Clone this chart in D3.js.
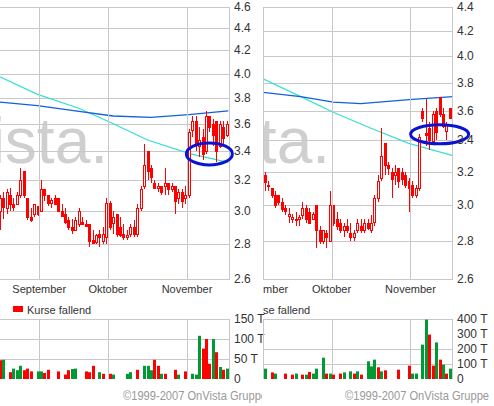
<!DOCTYPE html>
<html><head><meta charset="utf-8">
<script src="https://cdn.jsdelivr.net/npm/d3@7"></script>
<style>body{margin:0;background:#fff}svg{display:block}text{font-family:"Liberation Sans",Arial,sans-serif}</style>
</head><body><svg id="c" width="494" height="406"></svg>
<script>
// ---- data: left chart (o,h,l,c) ----
const leftOHLC = [
[3.00,3.10,2.88,3.08],[3.08,3.12,2.95,3.02],[3.02,3.14,2.98,3.12],[3.10,3.15,3.00,3.04],[3.04,3.08,3.00,3.02],
[3.04,3.12,3.04,3.10],[3.10,3.28,3.08,3.20],[3.26,3.26,3.08,3.10],[3.08,3.08,2.94,2.96],[2.96,3.02,2.93,2.94],
[2.98,3.04,2.96,3.04],[3.03,3.03,2.97,2.98],[3.00,3.20,3.00,3.14],[3.14,3.14,3.06,3.10],[3.10,3.10,3.03,3.05],
[3.05,3.08,3.02,3.07],[3.08,3.10,3.04,3.04],[3.08,3.08,3.00,3.00],[3.00,3.04,2.96,2.97],[2.98,3.02,2.92,2.93],
[2.94,2.96,2.88,2.90],[2.90,2.95,2.86,2.88],[2.88,2.96,2.88,2.94],[2.92,3.02,2.90,3.00],[2.93,2.96,2.91,2.92],
[2.92,2.94,2.90,2.91],[2.92,2.92,2.78,2.82],[2.82,2.88,2.80,2.80],[2.81,2.86,2.80,2.85],[2.86,2.88,2.78,2.84],
[2.82,2.90,2.80,2.86],[2.84,3.08,2.80,3.05],[3.05,3.06,2.88,2.90],[2.92,3.00,2.86,2.96],[2.98,2.98,2.84,2.86],
[2.90,2.96,2.84,2.85],[2.86,2.92,2.82,2.84],[2.84,2.88,2.82,2.85],[2.86,2.92,2.84,2.90],[2.90,2.94,2.84,2.86],
[2.86,3.04,2.84,3.02],[3.02,3.16,3.00,3.14],[3.16,3.45,3.14,3.30],[3.40,3.40,3.20,3.26],[3.28,3.30,3.18,3.22],
[3.18,3.20,3.14,3.15],[3.15,3.18,3.12,3.16],[3.16,3.16,3.10,3.12],[3.16,3.28,3.10,3.18],[3.18,3.18,3.10,3.14],
[3.14,3.18,3.12,3.16],[3.16,3.16,2.98,3.06],[3.08,3.14,3.04,3.12],[3.12,3.14,3.02,3.06],[3.08,3.16,3.04,3.10],
[3.10,3.56,3.08,3.54],[3.55,3.66,3.50,3.62],[3.62,3.66,3.40,3.44],[3.44,3.58,3.36,3.48],[3.50,3.56,3.34,3.38],
[3.40,3.70,3.38,3.66],[3.66,3.66,3.54,3.58],[3.60,3.64,3.44,3.52],[3.62,3.62,3.32,3.40],[3.44,3.62,3.42,3.60],
[3.58,3.62,3.44,3.50],[3.52,3.62,3.50,3.60]];
const leftMA200 = [[-0.5,3.77],[11,3.74],[22,3.70],[33,3.66],[44,3.65],[55,3.67],[66.5,3.70]];
const leftMA38 = [[-0.5,3.98],[11,3.83],[23,3.72],[31.5,3.62],[43,3.48],[55.5,3.38],[66.5,3.32]];
const leftVolIdx = [0,1,3,4,5,6,7,8,9,11,12,13,14,17,19,20,21,22,25,26,27,29,30,32,33,37,38,40,42,43,44,45,46,47,48,51,52,54,56,57,58,59,60,61,62,63,64,65,66];
const leftVol =    [47,48,17,26,22,33,22,26,19,19,19,15,23,19,11,22,25,26,19,17,33,17,13,13,11,13,17,23,33,33,22,48,33,13,13,23,11,19,13,11,108,76,100,38,100,67,30,23,26];
const leftVolUp =  [0,1,0,1,1,1,0,0,0,1,1,0,0,0,0,0,1,1,0,0,0,1,0,0,1,1,1,0,1,1,1,0,0,1,0,0,1,0,1,1,1,0,0,0,1,0,1,0,1];
const leftMonths = [[11.5,"September"],[31.5,"Oktober"],[54.5,"November"]];
const leftTicks = [2.6,2.8,3.0,3.2,3.4,3.6,3.8,4.0,4.2,4.4,4.6];
const leftVolTicks = [0,50,100,150];

// ---- data: right chart ----
const rightOHLC = [
[3.18,3.20,3.08,3.14],[3.12,3.14,3.08,3.12],[3.10,3.10,3.04,3.06],[3.06,3.08,2.98,3.00],[3.06,3.06,3.00,3.02],
[3.02,3.04,2.96,2.98],[2.98,3.00,2.94,2.96],[2.94,2.98,2.90,2.95],[2.92,2.95,2.90,2.93],[2.92,2.96,2.88,2.92],
[2.92,2.94,2.88,2.93],[2.94,3.02,2.92,2.98],[2.98,3.00,2.90,2.92],[2.96,2.98,2.90,2.90],[2.92,2.96,2.92,2.95],
[3.00,3.00,2.76,2.86],[2.86,2.88,2.78,2.80],[2.80,2.86,2.78,2.86],[2.84,2.86,2.76,2.82],[2.80,3.08,2.80,3.00],
[3.00,3.00,2.88,2.90],[2.92,2.96,2.86,2.88],[2.90,2.92,2.84,2.86],[2.86,2.90,2.82,2.88],[2.88,2.92,2.84,2.86],
[2.84,2.90,2.80,2.82],[2.82,2.86,2.80,2.84],[2.86,2.92,2.84,2.90],[2.88,2.92,2.84,2.86],[2.86,2.92,2.84,2.90],
[2.90,2.92,2.86,2.87],[2.86,2.94,2.84,2.90],[2.90,3.06,2.88,3.04],[3.04,3.18,3.02,3.14],[3.16,3.48,3.14,3.30],
[3.38,3.38,3.18,3.24],[3.24,3.26,3.18,3.22],[3.20,3.22,3.04,3.16],[3.18,3.24,3.12,3.20],[3.22,3.22,3.10,3.14],
[3.20,3.22,3.12,3.16],[3.18,3.20,3.10,3.12],[3.14,3.16,2.96,3.10],[3.12,3.14,3.04,3.06],[3.06,3.12,3.04,3.10],
[3.10,3.44,3.08,3.42],[3.60,3.62,3.52,3.55],[3.45,3.68,3.36,3.44],[3.48,3.52,3.34,3.40],[3.40,3.60,3.38,3.58],
[3.60,3.62,3.40,3.46],[3.70,3.70,3.56,3.58],[3.58,3.62,3.48,3.50],[3.46,3.52,3.40,3.50],[3.62,3.62,3.54,3.55]];
const rightMA200 = [[-0.5,3.73],[10.5,3.70],[20,3.66],[28,3.65],[43,3.68],[54.9,3.70]];
const rightMA38 = [[-0.5,3.83],[10.5,3.70],[20,3.59],[31,3.48],[42,3.38],[54.9,3.30]];
const rightVolIdx = [0,2,3,6,8,9,11,12,13,14,15,17,18,19,20,22,23,25,26,27,28,30,31,32,33,34,35,39,42,43,44,46,47,48,49,50,51,52,53,54];
const rightVol =    [69,44,36,36,29,36,29,29,47,36,69,142,36,36,29,36,44,51,36,51,29,118,84,129,78,51,58,62,89,36,36,229,396,296,89,244,129,96,36,69];
const rightVolUp =  [1,0,1,0,0,1,0,1,0,1,1,1,0,1,0,0,1,1,0,1,0,1,1,1,0,1,0,0,0,1,1,1,1,0,0,1,0,1,0,1];
const rightMonths = [[-1,"September"],[19.5,"Oktober"],[42.5,"November"]];
const rightTicks = [2.6,2.8,3.0,3.2,3.4,3.6,3.8,4.0,4.2,4.4];
const rightVolTicks = [0,100,200,300,400];

const svg = d3.select("#c");
const RED="#ff0000", GREEN="#009933", GRID="#c8c8c8", TXT="#333";

function panel(cfg){
  const {x0,x1,xDom,yDom,ohlc,ma200,ma38,months,ticks,vol,volIdx,volUp,volMax,volTicks,volGrid,id,ell,legendX,copyX,clipL,clipR,wmX} = cfg;
  const top=7,bot=279,vtop=319,vbot=379;
  const x=d3.scaleLinear().domain(xDom).range([x0,x1]);
  const y=d3.scaleLog().domain(yDom).range([bot,top]);
  const yv=d3.scaleLinear().domain([0,volMax]).range([vbot,vtop]);
  const defs=svg.append("defs");
  defs.append("clipPath").attr("id","p"+id).append("rect").attr("x",x0).attr("y",top).attr("width",x1-x0).attr("height",bot-top);
  defs.append("clipPath").attr("id","w"+id).append("rect").attr("x",clipL).attr("y",0).attr("width",clipR-clipL).attr("height",406);
  const g=svg.append("g").attr("clip-path",`url(#w${id})`);
  const pg=g.append("g").attr("clip-path",`url(#p${id})`);
  pg.append("text").attr("x",wmX).attr("y",163).attr("text-anchor","end").attr("font-family","'DejaVu Serif',serif")
    .attr("font-size",64).attr("fill","#cfcfcf").text("OnVista.");
  pg.selectAll(".hg").data(ticks).join("line").attr("x1",x0).attr("x2",x1).attr("y1",d=>Math.round(y(d))+0.5).attr("y2",d=>Math.round(y(d))+0.5).attr("stroke",GRID);
  g.selectAll(".vg").data(months.filter(m=>m[0]>xDom[0])).join("line").attr("x1",d=>Math.round(x(d[0]))+0.5).attr("x2",d=>Math.round(x(d[0]))+0.5).attr("y1",top).attr("y2",bot).attr("stroke",GRID);
  g.append("rect").attr("x",x0+0.5).attr("y",top+0.5).attr("width",x1-x0-1).attr("height",bot-top).attr("fill","none").attr("stroke",GRID);
  const ln=d3.line().x(d=>x(d[0])).y(d=>y(d[1]));
  pg.append("path").attr("d",ln(ma38)).attr("fill","none").attr("stroke","#33e0d0").attr("stroke-width",1.2);
  pg.append("path").attr("d",ln(ma200)).attr("fill","none").attr("stroke","#1060e0").attr("stroke-width",1.3);
  const cg=pg.selectAll(".cd").data(ohlc).join("g");
  cg.append("line").attr("x1",(d,i)=>Math.round(x(i))+0.5).attr("x2",(d,i)=>Math.round(x(i))+0.5)
    .attr("y1",d=>y(d[1])).attr("y2",d=>y(d[2])).attr("stroke",RED).attr("shape-rendering","crispEdges");
  cg.append("rect").attr("x",(d,i)=>Math.round(x(i))-1+0.5).attr("width",2)
    .attr("y",d=>Math.round(y(Math.max(d[0],d[3])))+0.5).attr("height",d=>Math.max(1,Math.round(Math.abs(y(d[0])-y(d[3])))))
    .attr("fill",d=>d[3]<d[0]?RED:"#fff").attr("stroke",RED).attr("shape-rendering","crispEdges");
  g.append("ellipse").attr("cx",x(ell[0])).attr("cy",y(ell[1])).attr("rx",ell[2]).attr("ry",ell[3]).attr("fill","none").attr("stroke","#0a14d0").attr("stroke-width",3);
  svg.selectAll(".yl"+id).data(ticks).join("text").attr("x",x1+4).attr("y",d=>y(d)+4).attr("font-size",12).attr("fill",TXT).text(d=>d.toFixed(1));
  g.selectAll(".ml").data(months).join("text").attr("x",d=>x(d[0])).attr("y",293).attr("text-anchor","middle").attr("font-size",11).attr("fill",TXT).text(d=>d[1]);
  g.append("rect").attr("x",legendX).attr("y",306).attr("width",10).attr("height",6).attr("fill",RED);
  g.append("text").attr("x",legendX+14).attr("y",314).attr("font-size",11).attr("fill",TXT).text("Kurse fallend");
  g.selectAll(".vgh").data(volGrid).join("line").attr("x1",x0).attr("x2",x1).attr("y1",d=>Math.round(yv(d))+0.5).attr("y2",d=>Math.round(yv(d))+0.5).attr("stroke",GRID);
  g.selectAll(".vgv").data(months.filter(m=>m[0]>xDom[0])).join("line").attr("x1",d=>Math.round(x(d[0]))+0.5).attr("x2",d=>Math.round(x(d[0]))+0.5).attr("y1",vtop).attr("y2",vbot).attr("stroke",GRID);
  g.append("line").attr("x1",x0).attr("x2",x1).attr("y1",vtop+0.5).attr("y2",vtop+0.5).attr("stroke",GRID);
  g.append("line").attr("x1",x1-0.5).attr("x2",x1-0.5).attr("y1",vtop).attr("y2",vbot).attr("stroke",GRID);
  if(id==="R") g.append("line").attr("x1",x0+0.5).attr("x2",x0+0.5).attr("y1",vtop).attr("y2",vbot).attr("stroke",GRID);
  g.selectAll(".vb").data(vol).join("rect").attr("x",(d,i)=>Math.round(x(volIdx[i]))-1).attr("width",3)
    .attr("y",d=>yv(d)).attr("height",d=>vbot-yv(d)).attr("fill",(d,i)=>volUp[i]?GREEN:RED);
  svg.selectAll(".vl"+id).data(volTicks).join("text").attr("x",x1+4).attr("y",d=>yv(d)+4).attr("font-size",12).attr("fill",TXT).text(d=>d===0?"0":d+" T");
  g.append("text").attr("x",copyX).attr("y",400).attr("font-size",12).attr("fill","#999")
    .attr("textLength",144).attr("lengthAdjust","spacingAndGlyphs").text("©1999-2007 OnVista Gruppe");
}
panel({id:"L",x0:-2,x1:230,xDom:[-0.5,67],yDom:[2.6,4.6],ohlc:leftOHLC,ma200:leftMA200,ma38:leftMA38,months:leftMonths,ticks:leftTicks,
  vol:leftVol,volIdx:leftVolIdx,volUp:leftVolUp,volMax:150,volTicks:leftVolTicks,volGrid:[50,100],ell:[61,3.38,23,11],legendX:13,copyX:123,clipL:0,clipR:262,wmX:108});
panel({id:"R",x0:263,x1:453,xDom:[-0.5,54.9],yDom:[2.6,4.4],ohlc:rightOHLC,ma200:rightMA200,ma38:rightMA38,months:rightMonths,ticks:rightTicks,
  vol:rightVol,volIdx:rightVolIdx,volUp:rightVolUp,volMax:400,volTicks:rightVolTicks,volGrid:[100,200],ell:[51,3.44,29,9.5],legendX:232,copyX:345,clipL:263,clipR:494,wmX:330});
</script></body></html>
